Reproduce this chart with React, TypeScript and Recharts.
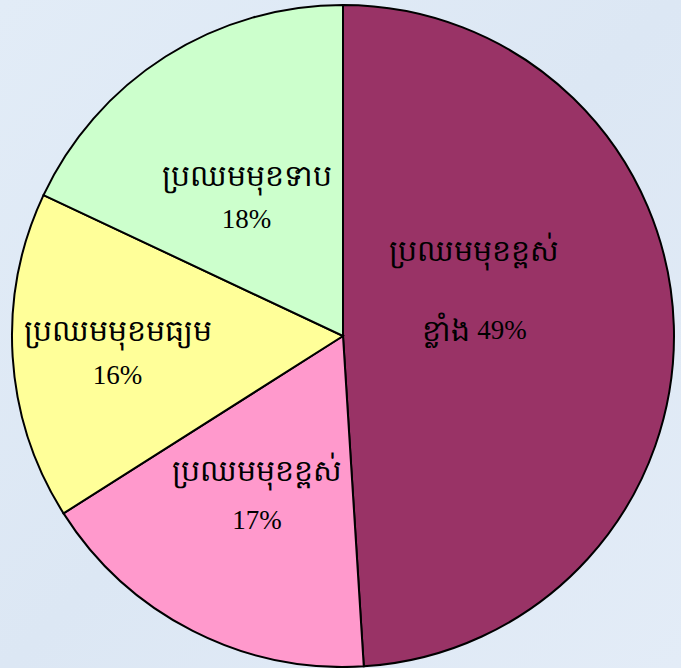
import React from 'react'
import { PieChart, Pie, Cell } from 'recharts'

const categories = ['ប្រឈមមុខខ្ពស់ខ្លាំង', 'ប្រឈមមុខខ្ពស់', 'ប្រឈមមុខមធ្យម', 'ប្រឈមមុខទាប']
const labelLines = [
  ['ប្រឈមមុខខ្ពស់', 'ខ្លាំង', '49%'],
  ['ប្រឈមមុខខ្ពស់', '', '17%'],
  ['ប្រឈមមុខមធ្យម', '', '16%'],
  ['ប្រឈមមុខទាប', '', '18%'],
]
const values = [49, 17, 16, 18]

const colors = ['#993366', '#FF99CC', '#FFFF99', '#CCFFCC']
// label anchor: distance from centre and angle nudge from the slice's mid angle
const labelRadius = [139, 181, 226, 169]
const labelShift = [17.5, -1.4, 0.6, 2.4]
const lineGaps = [80, 50, 45, 43]

const data = categories.map((name, i) => ({ name, value: values[i] }))

const RADIAN = Math.PI / 180
const serif = "'Liberation Serif', 'DejaVu Serif', serif"

const renderLabel = (props: any) => {
  const { cx, cy, midAngle, index } = props
  const a = (midAngle + labelShift[index]) * RADIAN
  const x = cx + labelRadius[index] * Math.cos(a)
  const y = cy - labelRadius[index] * Math.sin(a)
  const gap = lineGaps[index]
  const [top, khmer2, pct] = labelLines[index]
  return (
    <g>
      <text
        x={x}
        y={y - gap / 2}
        textAnchor="middle"
        dominantBaseline="central"
        fontFamily={serif}
        fontSize={30}
        fill="#000"
      >
        {top}
      </text>
      <text
        x={x}
        y={y + gap / 2}
        textAnchor="middle"
        dominantBaseline="central"
        fontFamily={serif}
        fontSize={27}
        fill="#000"
      >
        {khmer2 ? <tspan fontSize={30}>{khmer2 + ' '}</tspan> : null}
        <tspan>{pct}</tspan>
      </text>
    </g>
  )
}

export default function App() {
  return (
    <div
      style={{
        position: 'absolute',
        left: 0,
        top: 0,
        width: 681,
        height: 668,
        background: 'linear-gradient(135deg, #e2ecf7 0%, #dce7f4 50%, #e3ecf7 100%)',
      }}
    >
      <PieChart width={681} height={668} margin={{ top: 0, right: 0, bottom: 0, left: 0 }}>
        <Pie
          data={data}
          dataKey="value"
          nameKey="name"
          cx={343}
          cy={336}
          outerRadius={331}
          startAngle={90}
          endAngle={-270}
          stroke="#000"
          strokeWidth={2}
          label={renderLabel}
          labelLine={false}
          isAnimationActive={false}
        >
          {data.map((entry, index) => (
            <Cell key={`cell-${index}`} fill={colors[index]} />
          ))}
        </Pie>
      </PieChart>
    </div>
  )
}
